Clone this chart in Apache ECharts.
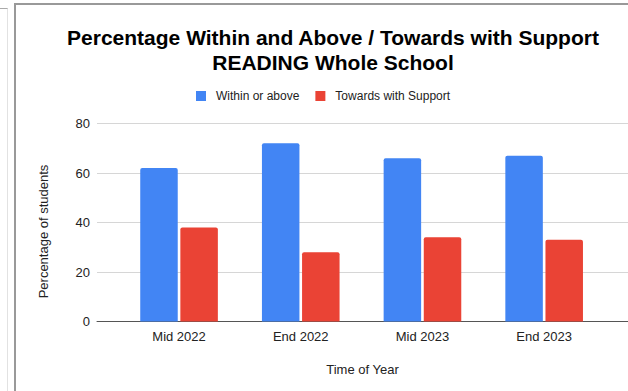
<!DOCTYPE html>
<html>
<head>
<meta charset="utf-8">
<script src="https://cdn.jsdelivr.net/npm/echarts@6/dist/echarts.min.js"></script>
<style>
html,body{margin:0;padding:0;background:#fff;}
#chart{width:628px;height:391px;}
</style>
</head>
<body>
<div id="chart"></div>
<script>
var categories = ['Mid 2022', 'End 2022', 'Mid 2023', 'End 2023'];
var withinOrAbove = [62, 72, 66, 67];
var towardsWithSupport = [38, 28, 34, 33];
var seriesNames = ['Within or above', 'Towards with Support'];
var yTicks = { min: 0, max: 80, interval: 20 };
var titleText = 'Percentage Within and Above / Towards with Support\nREADING Whole School';
var yName = 'Percentage of students';
var xName = 'Time of Year';

var FONT = 'Arial, "Liberation Sans", sans-serif';
var chart = echarts.init(document.getElementById('chart'), null, { renderer: 'svg' });
var gridTop = 123.5, gridBottom = 69.5;

chart.setOption({
  animation: false,
  backgroundColor: '#fff',
  color: ['#4285F4', '#EA4335'],
  title: {
    text: titleText,
    left: 333,
    textAlign: 'center',
    top: 25,
    padding: 0,
    textStyle: { fontFamily: FONT, fontSize: 21, fontWeight: 'bold', color: '#000', lineHeight: 25 }
  },
  legend: {
    data: seriesNames,
    left: 196,
    top: 90,
    padding: 0,
    icon: 'rect',
    itemWidth: 10,
    itemHeight: 10,
    itemGap: 16,
    textStyle: { fontFamily: FONT, fontSize: 12, color: '#222', padding: [0, 0, 0, 5] }
  },
  grid: [
    { left: 97, right: 0, top: gridTop, bottom: gridBottom },
    { left: 118.2, right: 23, top: gridTop, bottom: gridBottom }
  ],
  xAxis: [
    {
      gridIndex: 0, type: 'value', min: 0, max: 1,
      axisLine: { show: true, onZero: false, lineStyle: { color: '#555', width: 1 } },
      axisTick: { show: false }, axisLabel: { show: false }, splitLine: { show: false },
      name: xName, nameLocation: 'middle', nameGap: 41,
      nameTextStyle: { fontFamily: FONT, fontSize: 13, color: '#222' }
    },
    {
      gridIndex: 1, type: 'category', data: categories,
      axisLine: { show: false }, axisTick: { show: false },
      axisLabel: { fontFamily: FONT, fontSize: 13, color: '#222', margin: 8 }
    }
  ],
  yAxis: [
    {
      gridIndex: 0, type: 'value', min: yTicks.min, max: yTicks.max, interval: yTicks.interval,
      axisLine: { show: false }, axisTick: { show: false },
      axisLabel: { fontFamily: FONT, fontSize: 13, color: '#222', margin: 7 },
      splitLine: { lineStyle: { color: '#d6d6d6', width: 1 } }
    },
    {
      gridIndex: 1, type: 'value', min: yTicks.min, max: yTicks.max, interval: yTicks.interval,
      show: false, splitLine: { show: false }
    }
  ],
  series: [
    {
      name: seriesNames[0], type: 'bar', xAxisIndex: 1, yAxisIndex: 1,
      data: withinOrAbove, barWidth: 37.5, barGap: '7%',
      itemStyle: { borderRadius: [2, 2, 0, 0] }
    },
    {
      name: seriesNames[1], type: 'bar', xAxisIndex: 1, yAxisIndex: 1,
      data: towardsWithSupport, barWidth: 37.5, barGap: '7%',
      itemStyle: { borderRadius: [2, 2, 0, 0] }
    }
  ],
  graphic: [
    { type: 'text', x: 43, y: 231.5, rotation: Math.PI / 2,
      style: { text: yName, font: '13px ' + FONT, fill: '#222', textAlign: 'center', textVerticalAlign: 'middle' } },
    { type: 'line', shape: { x1: 15, y1: 4, x2: 15, y2: 391 }, style: { stroke: '#999', lineWidth: 2 } },
    { type: 'line', shape: { x1: 14, y1: 4, x2: 628, y2: 4 }, style: { stroke: '#999', lineWidth: 2 } },
    { type: 'line', shape: { x1: 7.5, y1: 8, x2: 7.5, y2: 391 }, style: { stroke: '#e2e2e2', lineWidth: 1 } },
    { type: 'line', shape: { x1: 0, y1: 8.5, x2: 7.5, y2: 8.5 }, style: { stroke: '#aaa', lineWidth: 1 } }
  ]
});
</script>
</body>
</html>
